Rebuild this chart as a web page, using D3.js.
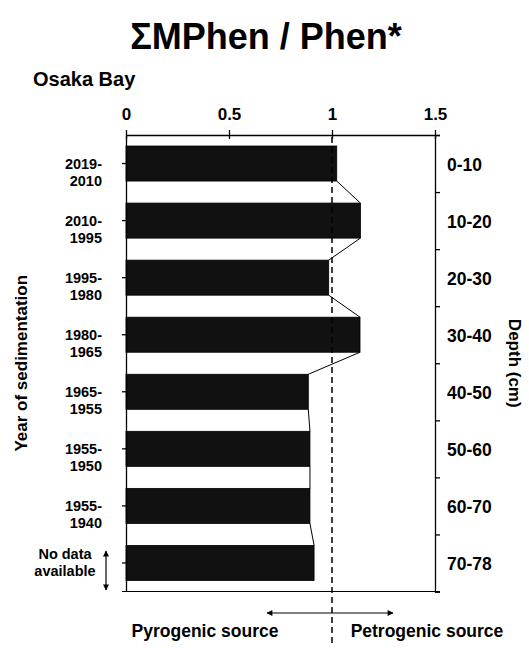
<!DOCTYPE html>
<html>
<head>
<meta charset="utf-8">
<script src="https://cdn.jsdelivr.net/npm/d3@7"></script>
<style>
  html, body { margin: 0; padding: 0; background: #fff; }
  svg { display: block; }
  text { font-family: "Liberation Sans", Arial, sans-serif; font-weight: bold; fill: #000; }
</style>
</head>
<body>
<svg id="chart" width="529" height="648"></svg>
<script>
// ---- data ----
const yearLabels = [
  ["2019-", "2010"],
  ["2010-", "1995"],
  ["1995-", "1980"],
  ["1980-", "1965"],
  ["1965-", "1955"],
  ["1955-", "1950"],
  ["1955-", "1940"],
  ["No data", "available"]
];
const depthLabels = ["0-10", "10-20", "20-30", "30-40", "40-50", "50-60", "60-70", "70-78"];
const ratioValues = [1.023, 1.138, 0.984, 1.136, 0.885, 0.893, 0.893, 0.913];
const xTicks = [0, 0.5, 1, 1.5];
const xTickLabels = ["0", "0.5", "1", "1.5"];
const threshold = 1;

const svg = d3.select("#chart");

const x = d3.scaleLinear().domain([0, 1.5]).range([126, 435]);
const idx = d3.range(depthLabels.length);
const y = d3.scaleBand().domain(idx).range([135, 591.5]).paddingInner(0.386).paddingOuter(0.193);
const yB = d3.scaleLinear().domain([0, depthLabels.length]).range([135, 591.5]);

// title
svg.append("text").attr("x", 266).attr("y", 49).attr("text-anchor", "middle")
  .style("font-size", "36px").text("ΣMPhen / Phen*");
svg.append("text").attr("x", 33).attr("y", 86).style("font-size", "20px").text("Osaka Bay");

// bars
svg.append("g").selectAll("rect").data(ratioValues).join("rect")
  .attr("x", x(0)).attr("y", (d, i) => y(i))
  .attr("width", d => x(d) - x(0)).attr("height", y.bandwidth())
  .attr("fill", "#111").attr("stroke", "#000").attr("stroke-width", 0.8);

// connecting lines between bars
const conn = ratioValues.slice(0, -1).map((d, i) => [[x(d), y(i) + y.bandwidth()], [x(ratioValues[i + 1]), y(i + 1)]]);
svg.append("g").selectAll("line").data(conn).join("line")
  .attr("x1", d => d[0][0]).attr("y1", d => d[0][1])
  .attr("x2", d => d[1][0]).attr("y2", d => d[1][1])
  .attr("stroke", "#000").attr("stroke-width", 1);

// top axis
const gTop = svg.append("g").attr("transform", "translate(0,135)")
  .call(d3.axisTop(x).tickValues(xTicks).tickFormat((d, i) => xTickLabels[i]).tickSizeInner(5).tickSizeOuter(0).tickPadding(10));
gTop.selectAll(".tick line").attr("y1", 4);
gTop.selectAll(".tick text").style("font-size", "17px").style("font-family", '"Liberation Sans", Arial, sans-serif').style("font-weight", "bold");

// left axis
svg.append("g").attr("transform", `translate(${x(0)},0)`)
  .call(d3.axisLeft(y).tickSizeInner(4).tickSizeOuter(0).tickFormat(""));

// right axis
svg.append("g").attr("transform", `translate(${x(1.5)},0)`)
  .call(d3.axisRight(yB).tickValues(d3.range(depthLabels.length + 1)).tickSize(5).tickFormat(""));

// bottom line
svg.append("line").attr("x1", x(0) - 4).attr("x2", x(1.5) + 5)
  .attr("y1", 591.5).attr("y2", 591.5).attr("stroke", "#000");

svg.selectAll(".domain, .tick line").attr("stroke", "#000").attr("stroke-width", 1.3);

// dashed threshold line
svg.append("line").attr("x1", x(threshold)).attr("x2", x(threshold))
  .attr("y1", 137).attr("y2", 646)
  .attr("stroke", "#000").attr("stroke-width", 1.5).attr("stroke-dasharray", "6,4");

// year labels (left)
yearLabels.forEach((lines, i) => {
  const c = y(i) + y.bandwidth() / 2;
  const nodata = i === yearLabels.length - 1;
  const t = svg.append("text").style("font-size", "14.5px")
    .attr("text-anchor", nodata ? "middle" : "end");
  lines.forEach((l, j) => {
    t.append("tspan").attr("x", nodata ? 65 : 102)
      .attr("y", c + (nodata ? -4 : 5) + j * 17).text(l);
  });
});

// depth labels (right)
svg.append("g").selectAll("text").data(depthLabels).join("text")
  .attr("x", 447).attr("y", (d, i) => y(i) + y.bandwidth() / 2 + 7)
  .style("font-size", "17.5px").text(d => d);

// axis titles
svg.append("text").attr("transform", `translate(27,${yB(4)}) rotate(-90)`)
  .attr("text-anchor", "middle").style("font-size", "17px").text("Year of sedimentation");
svg.append("text").attr("transform", `translate(509,${yB(4)}) rotate(90)`)
  .attr("text-anchor", "middle").style("font-size", "17px").text("Depth (cm)");

// arrows
const defs = svg.append("defs");
defs.append("marker").attr("id", "ah").attr("viewBox", "0 0 10 10")
  .attr("refX", 9).attr("refY", 5).attr("markerWidth", 8).attr("markerHeight", 6)
  .attr("markerUnits", "userSpaceOnUse").attr("orient", "auto-start-reverse")
  .append("path").attr("d", "M0,0L10,5L0,10Z").attr("fill", "#000");

svg.append("line").attr("x1", 267).attr("x2", 393).attr("y1", 613).attr("y2", 613)
  .attr("stroke", "#000").attr("stroke-width", 1.2)
  .attr("marker-start", "url(#ah)").attr("marker-end", "url(#ah)");
svg.append("line").attr("x1", 106).attr("x2", 106).attr("y1", 551).attr("y2", 590)
  .attr("stroke", "#000").attr("stroke-width", 1.2)
  .attr("marker-start", "url(#ah)").attr("marker-end", "url(#ah)");

svg.append("text").attr("x", 205).attr("y", 637).attr("text-anchor", "middle")
  .style("font-size", "17.5px").text("Pyrogenic source");
svg.append("text").attr("x", 427).attr("y", 637).attr("text-anchor", "middle")
  .style("font-size", "17.5px").text("Petrogenic source");
</script>
</body>
</html>
